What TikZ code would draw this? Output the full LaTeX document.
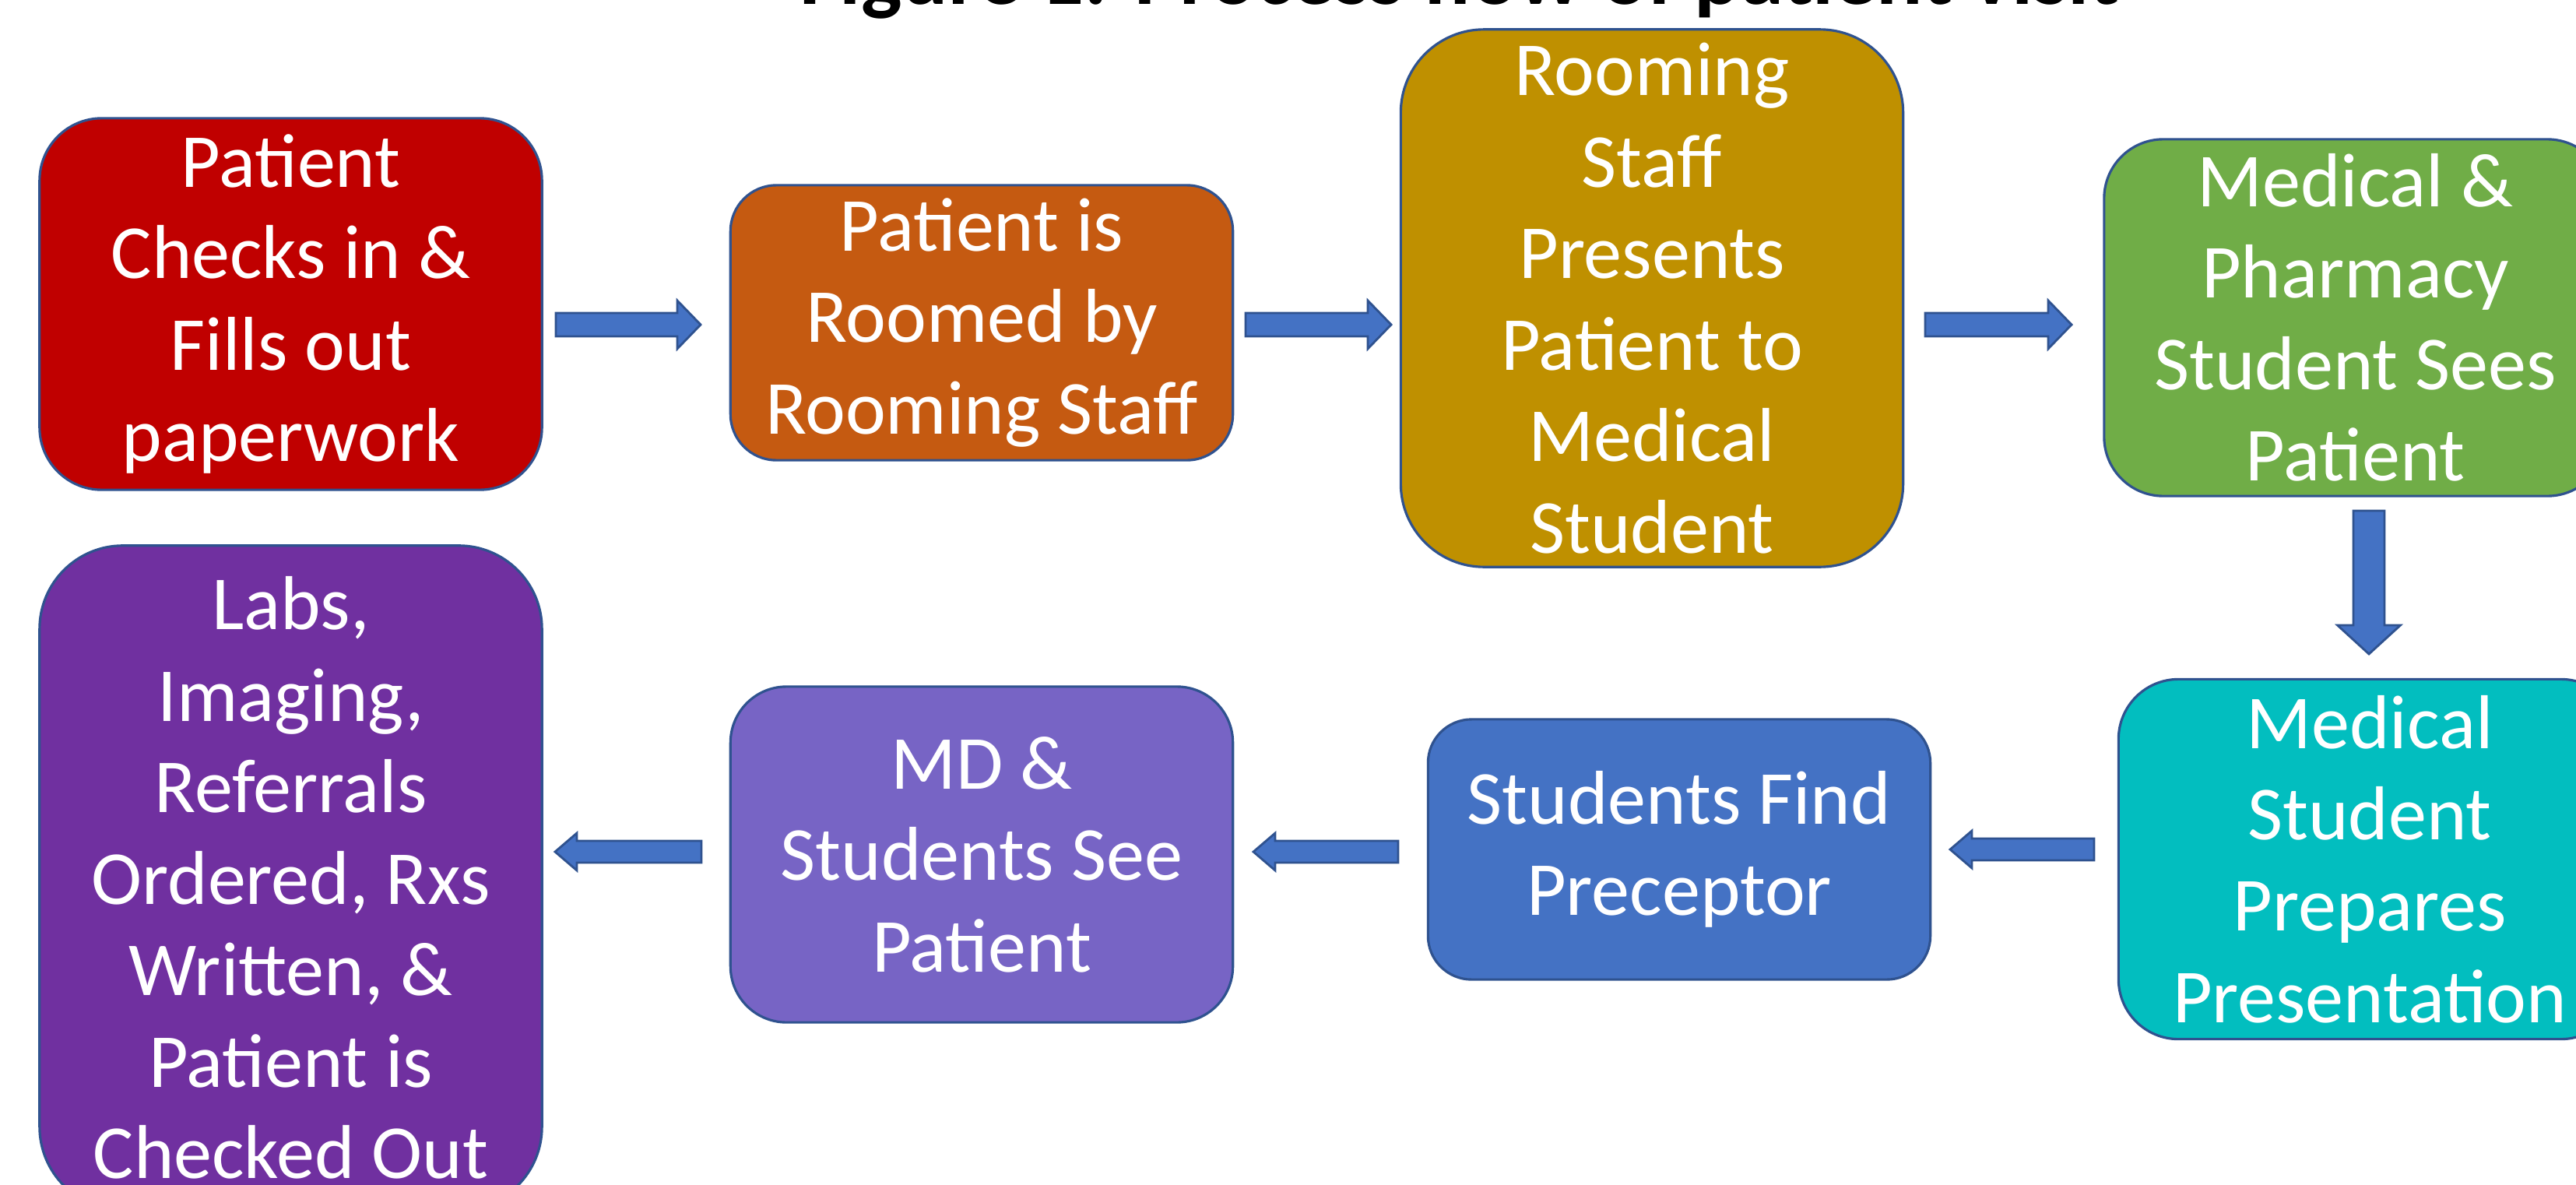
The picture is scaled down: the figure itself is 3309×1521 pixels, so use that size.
\documentclass[tikz,border=0pt]{standalone}
\usepackage{fontspec}
\setmainfont{Carlito}
\definecolor{bord}{HTML}{2F528F}
\definecolor{arrowfill}{HTML}{4472C4}
\definecolor{cRed}{HTML}{C00000}
\definecolor{cOrange}{HTML}{C55A11}
\definecolor{cGold}{HTML}{BF9000}
\definecolor{cGreen}{HTML}{70AD47}
\definecolor{cTeal}{HTML}{02BEBF}
\definecolor{cBlue}{HTML}{4472C4}
\definecolor{cLavender}{HTML}{7764C5}
\definecolor{cPurple}{HTML}{7030A0}
% horizontal block arrow: tail x, tip x, y, signed head length, shaft half-width, head half-width
\newcommand\hblockarrow[6]{%
  \draw[blockarrow] (#1,{#3-(#5)}) -- ({#2-(#4)},{#3-(#5)}) -- ({#2-(#4)},{#3-(#6)})
    -- (#2,#3) -- ({#2-(#4)},{#3+(#6)}) -- ({#2-(#4)},{#3+(#5)}) -- (#1,{#3+(#5)}) -- cycle;}
% vertical block arrow: x, tail y, tip y, signed head length, shaft half-width, head half-width
\newcommand\vblockarrow[6]{%
  \draw[blockarrow] ({#1-(#5)},#2) -- ({#1-(#5)},{#3-(#4)}) -- ({#1-(#6)},{#3-(#4)})
    -- (#1,#3) -- ({#1+(#6)},{#3-(#4)}) -- ({#1+(#5)},{#3-(#4)}) -- ({#1+(#5)},#2) -- cycle;}
\begin{document}
\begin{tikzpicture}[x=0.01cm,y=-0.01cm,
  box/.style={draw=bord, line width=0.9pt, text=white, align=center, inner sep=0pt,
    font=\fontsize{27.9pt}{33.4pt}\selectfont, minimum width=6.45cm},
  blockarrow/.style={draw=bord, line width=0.8pt, fill=arrowfill, line join=miter}]
\useasboundingbox (0,0) rectangle (3309,1521);

% title
\node[anchor=base, font=\fontsize{31.5pt}{36pt}\selectfont\bfseries] (title) at (1875,5)
  {Figure 1: Process flow of patient visit};

% top row
\node[box, fill=cRed, minimum height=4.77cm, rounded corners=0.80cm] (b1) at (373.5,390.5)
  {Patient\\Checks in \&\\Fills out\\paperwork};
\node[box, fill=cOrange, minimum height=3.53cm, rounded corners=0.59cm] (b2) at (1261,414.5)
  {Patient is\\Roomed by\\Rooming Staff};
\node[box, fill=cGold, minimum height=6.90cm, rounded corners=1.07cm] (b3) at (2122,383)
  {Rooming\\Staff\\Presents\\Patient to\\Medical\\Student};
\node[box, fill=cGreen, minimum height=4.58cm, rounded corners=0.76cm] (b4) at (3025.5,408)
  {Medical \&\\Pharmacy\\Student Sees\\Patient};

% bottom row
\node[box, fill=cTeal, minimum height=4.62cm, rounded corners=0.77cm] (b5) at (3044,1103.5)
  {Medical\\Student\\Prepares\\Presentation};
\node[box, fill=cBlue, minimum height=3.34cm, rounded corners=0.56cm] (b6) at (2157,1091)
  {Students Find\\Preceptor};
\node[box, fill=cLavender, minimum height=4.31cm, rounded corners=0.72cm] (b7) at (1261,1097.5)
  {MD \&\\Students See\\Patient};
\node[box, fill=cPurple, minimum height=8.53cm, rounded corners=1.07cm] (b8) at (373.5,1127.5)
  {Labs,\\Imaging,\\Referrals\\Ordered, Rxs\\Written, \&\\Patient is\\Checked Out};

% arrows along the top row
\hblockarrow{714}{900}{417}{30}{15}{31}
\hblockarrow{1600}{1787}{417}{30}{15}{31}
\hblockarrow{2473}{2661}{417}{30}{15}{31}
% arrow down the right side
\vblockarrow{3043}{656}{840}{37}{20}{40.5}
% arrows back along the bottom row
\hblockarrow{2690}{2505}{1091}{-28}{14}{24}
\hblockarrow{1796}{1610}{1094}{-28}{14}{24}
\hblockarrow{901}{713}{1094}{-28}{14}{24}
\end{tikzpicture}
\end{document}
